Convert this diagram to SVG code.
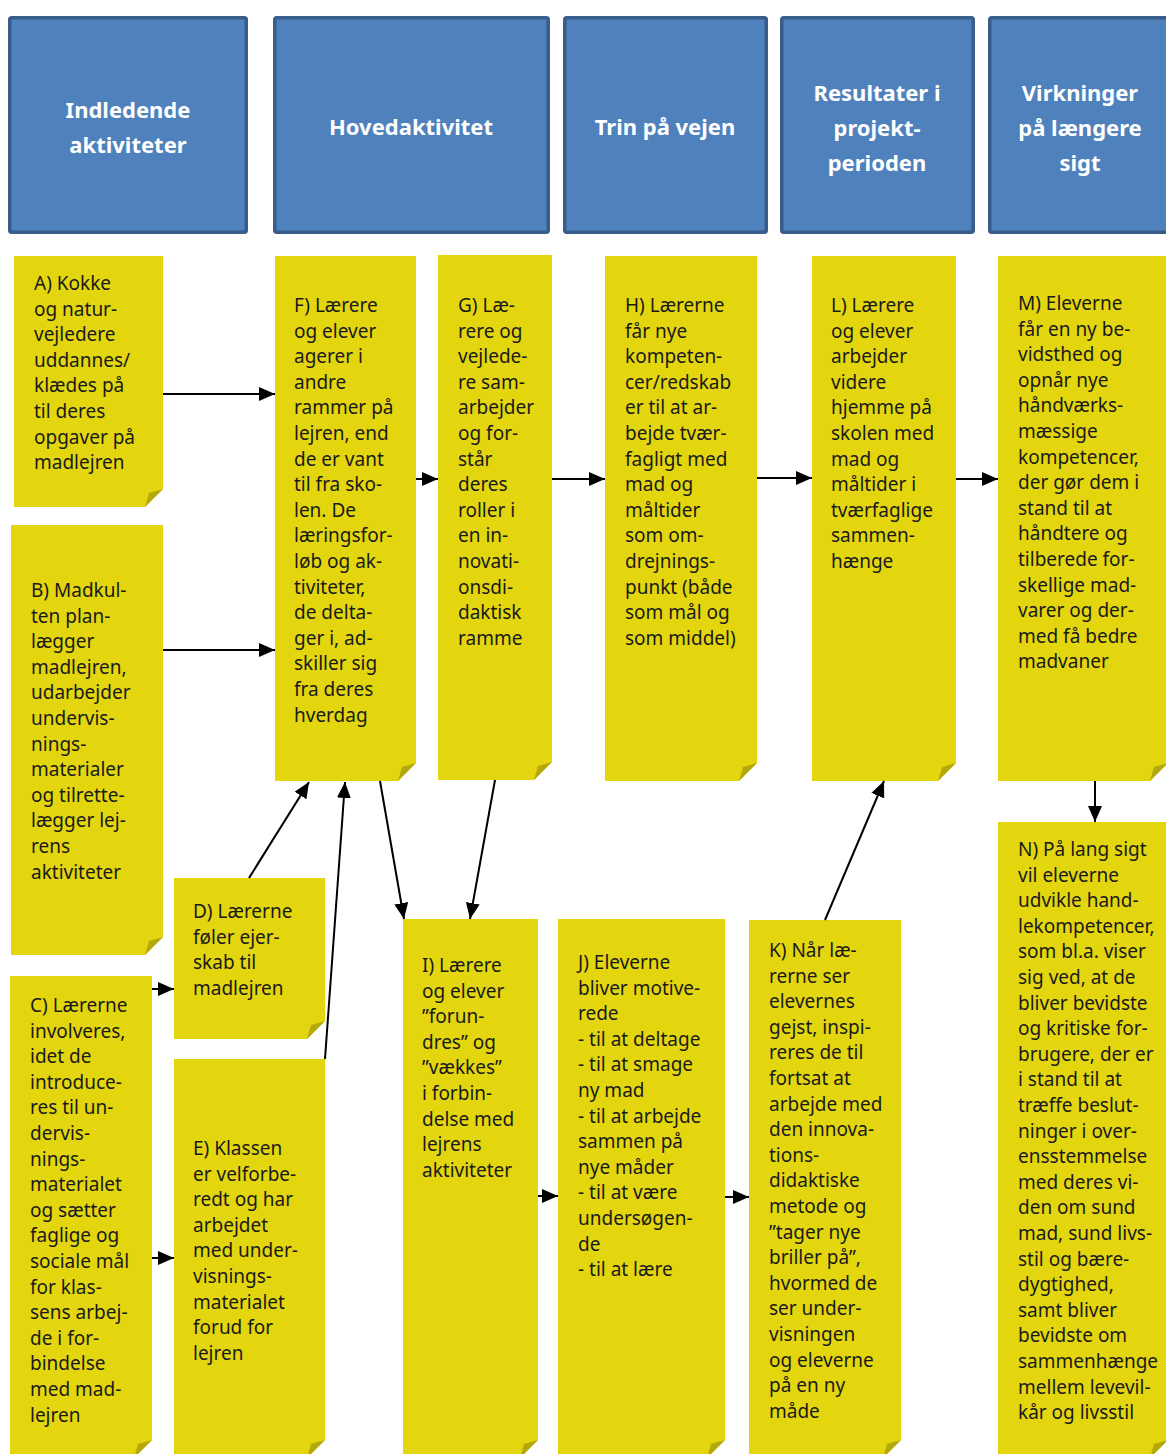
<svg xmlns="http://www.w3.org/2000/svg" width="1166" height="1454" viewBox="0 0 1166 1454">
<style>
.hdr{fill:#4F81BD;stroke:#385D8A;stroke-width:3.5}
.ht{font-family:"Noto Sans","Open Sans","DejaVu Sans",sans-serif;font-weight:700;font-size:22px;fill:#FFFFFF;text-anchor:middle}
.note{fill:#E3D60F}
.fold{fill:#B5A80C}
.nt{font-family:"Noto Sans","Open Sans","DejaVu Sans",sans-serif;font-size:19px;fill:#1A1A1A}
.conn line{stroke:#000;stroke-width:2;fill:none}
</style>
<defs>
<marker id="ah" viewBox="0 0 16 14" refX="16" refY="7" markerWidth="16" markerHeight="14" markerUnits="userSpaceOnUse" orient="auto">
<path d="M0,0 L16,7 L0,14 Z" fill="#000"/>
</marker>
</defs>
<rect width="1166" height="1454" fill="#FFFFFF"/>

<!-- headers -->
<g id="hdr1"><rect class="hdr" x="9.75" y="17.75" width="236.5" height="214.5" rx="2"/>
<text class="ht"><tspan x="128" y="118">Indledende</tspan><tspan x="128" dy="35">aktiviteter</tspan></text></g>
<g id="hdr2"><rect class="hdr" x="274.75" y="17.75" width="273.5" height="214.5" rx="2"/>
<text class="ht" x="411" y="135">Hovedaktivitet</text></g>
<g id="hdr3"><rect class="hdr" x="564.75" y="17.75" width="201.5" height="214.5" rx="2"/>
<text class="ht" x="665" y="135">Trin på vejen</text></g>
<g id="hdr4"><rect class="hdr" x="781.75" y="17.75" width="191.5" height="214.5" rx="2"/>
<text class="ht"><tspan x="877" y="101">Resultater i</tspan><tspan x="877" dy="35">projekt-</tspan><tspan x="877" dy="35">perioden</tspan></text></g>
<g id="hdr5"><rect class="hdr" x="989.75" y="17.75" width="190" height="214.5" rx="2"/>
<text class="ht"><tspan x="1080" y="101">Virkninger</tspan><tspan x="1080" dy="35">på længere</tspan><tspan x="1080" dy="35">sigt</tspan></text></g>

<!-- notes -->
<g id="A"><path class="note" d="M14,256 H163 V489 L145,507 H14 Z"/><path class="fold" d="M163,489 L145,507 L149,493 Z"/>
<text class="nt"><tspan x="34" y="290">A) Kokke</tspan><tspan x="34" dy="25.6">og natur-</tspan><tspan x="34" dy="25.6">vejledere</tspan><tspan x="34" dy="25.6">uddannes/</tspan><tspan x="34" dy="25.6">klædes på</tspan><tspan x="34" dy="25.6">til deres</tspan><tspan x="34" dy="25.6">opgaver på</tspan><tspan x="34" dy="25.6">madlejren</tspan></text></g>

<g id="B"><path class="note" d="M11,525 H163 V937 L145,955 H11 Z"/><path class="fold" d="M163,937 L145,955 L149,941 Z"/>
<text class="nt"><tspan x="31" y="597">B) Madkul-</tspan><tspan x="31" dy="25.6">ten plan-</tspan><tspan x="31" dy="25.6">lægger</tspan><tspan x="31" dy="25.6">madlejren,</tspan><tspan x="31" dy="25.6">udarbejder</tspan><tspan x="31" dy="25.6">undervis-</tspan><tspan x="31" dy="25.6">nings-</tspan><tspan x="31" dy="25.6">materialer</tspan><tspan x="31" dy="25.6">og tilrette-</tspan><tspan x="31" dy="25.6">lægger lej-</tspan><tspan x="31" dy="25.6">rens</tspan><tspan x="31" dy="25.6">aktiviteter</tspan></text></g>

<g id="C"><path class="note" d="M10,976 H152 V1440 L134,1458 H10 Z"/><path class="fold" d="M152,1440 L134,1458 L138,1444 Z"/>
<text class="nt"><tspan x="30" y="1012">C) Lærerne</tspan><tspan x="30" dy="25.6">involveres,</tspan><tspan x="30" dy="25.6">idet de</tspan><tspan x="30" dy="25.6">introduce-</tspan><tspan x="30" dy="25.6">res til un-</tspan><tspan x="30" dy="25.6">dervis-</tspan><tspan x="30" dy="25.6">nings-</tspan><tspan x="30" dy="25.6">materialet</tspan><tspan x="30" dy="25.6">og sætter</tspan><tspan x="30" dy="25.6">faglige og</tspan><tspan x="30" dy="25.6">sociale mål</tspan><tspan x="30" dy="25.6">for klas-</tspan><tspan x="30" dy="25.6">sens arbej-</tspan><tspan x="30" dy="25.6">de i for-</tspan><tspan x="30" dy="25.6">bindelse</tspan><tspan x="30" dy="25.6">med mad-</tspan><tspan x="30" dy="25.6">lejren</tspan></text></g>

<g id="D"><path class="note" d="M174,878 H325 V1021 L307,1039 H174 Z"/><path class="fold" d="M325,1021 L307,1039 L311,1025 Z"/>
<text class="nt"><tspan x="193" y="918">D) Lærerne</tspan><tspan x="193" dy="25.6">føler ejer-</tspan><tspan x="193" dy="25.6">skab til</tspan><tspan x="193" dy="25.6">madlejren</tspan></text></g>

<g id="E"><path class="note" d="M174,1059 H325 V1440 L307,1458 H174 Z"/><path class="fold" d="M325,1440 L307,1458 L311,1444 Z"/>
<text class="nt"><tspan x="193" y="1155">E) Klassen</tspan><tspan x="193" dy="25.6">er velforbe-</tspan><tspan x="193" dy="25.6">redt og har</tspan><tspan x="193" dy="25.6">arbejdet</tspan><tspan x="193" dy="25.6">med under-</tspan><tspan x="193" dy="25.6">visnings-</tspan><tspan x="193" dy="25.6">materialet</tspan><tspan x="193" dy="25.6">forud for</tspan><tspan x="193" dy="25.6">lejren</tspan></text></g>

<g id="F"><path class="note" d="M275,256 H416 V763 L398,781 H275 Z"/><path class="fold" d="M416,763 L398,781 L402,767 Z"/>
<text class="nt"><tspan x="294" y="312">F) Lærere</tspan><tspan x="294" dy="25.6">og elever</tspan><tspan x="294" dy="25.6">agerer i</tspan><tspan x="294" dy="25.6">andre</tspan><tspan x="294" dy="25.6">rammer på</tspan><tspan x="294" dy="25.6">lejren, end</tspan><tspan x="294" dy="25.6">de er vant</tspan><tspan x="294" dy="25.6">til fra sko-</tspan><tspan x="294" dy="25.6">len. De</tspan><tspan x="294" dy="25.6">læringsfor-</tspan><tspan x="294" dy="25.6">løb og ak-</tspan><tspan x="294" dy="25.6">tiviteter,</tspan><tspan x="294" dy="25.6">de delta-</tspan><tspan x="294" dy="25.6">ger i, ad-</tspan><tspan x="294" dy="25.6">skiller sig</tspan><tspan x="294" dy="25.6">fra deres</tspan><tspan x="294" dy="25.6">hverdag</tspan></text></g>

<g id="G"><path class="note" d="M438,255 H552 V762 L534,780 H438 Z"/><path class="fold" d="M552,762 L534,780 L538,766 Z"/>
<text class="nt"><tspan x="458" y="312">G) Læ-</tspan><tspan x="458" dy="25.6">rere og</tspan><tspan x="458" dy="25.6">vejlede-</tspan><tspan x="458" dy="25.6">re sam-</tspan><tspan x="458" dy="25.6">arbejder</tspan><tspan x="458" dy="25.6">og for-</tspan><tspan x="458" dy="25.6">står</tspan><tspan x="458" dy="25.6">deres</tspan><tspan x="458" dy="25.6">roller i</tspan><tspan x="458" dy="25.6">en in-</tspan><tspan x="458" dy="25.6">novati-</tspan><tspan x="458" dy="25.6">onsdi-</tspan><tspan x="458" dy="25.6">daktisk</tspan><tspan x="458" dy="25.6">ramme</tspan></text></g>

<g id="H"><path class="note" d="M605,256 H757 V763 L739,781 H605 Z"/><path class="fold" d="M757,763 L739,781 L743,767 Z"/>
<text class="nt"><tspan x="625" y="312">H) Lærerne</tspan><tspan x="625" dy="25.6">får nye</tspan><tspan x="625" dy="25.6">kompeten-</tspan><tspan x="625" dy="25.6">cer/redskab</tspan><tspan x="625" dy="25.6">er til at ar-</tspan><tspan x="625" dy="25.6">bejde tvær-</tspan><tspan x="625" dy="25.6">fagligt med</tspan><tspan x="625" dy="25.6">mad og</tspan><tspan x="625" dy="25.6">måltider</tspan><tspan x="625" dy="25.6">som om-</tspan><tspan x="625" dy="25.6">drejnings-</tspan><tspan x="625" dy="25.6">punkt (både</tspan><tspan x="625" dy="25.6">som mål og</tspan><tspan x="625" dy="25.6">som middel)</tspan></text></g>

<g id="L"><path class="note" d="M812,256 H956 V763 L938,781 H812 Z"/><path class="fold" d="M956,763 L938,781 L942,767 Z"/>
<text class="nt"><tspan x="831" y="312">L) Lærere</tspan><tspan x="831" dy="25.6">og elever</tspan><tspan x="831" dy="25.6">arbejder</tspan><tspan x="831" dy="25.6">videre</tspan><tspan x="831" dy="25.6">hjemme på</tspan><tspan x="831" dy="25.6">skolen med</tspan><tspan x="831" dy="25.6">mad og</tspan><tspan x="831" dy="25.6">måltider i</tspan><tspan x="831" dy="25.6">tværfaglige</tspan><tspan x="831" dy="25.6">sammen-</tspan><tspan x="831" dy="25.6">hænge</tspan></text></g>

<g id="M"><path class="note" d="M998,256 H1168 V763 L1150,781 H998 Z"/><path class="fold" d="M1168,763 L1150,781 L1154,767 Z"/>
<text class="nt"><tspan x="1018" y="310">M) Eleverne</tspan><tspan x="1018" dy="25.6">får en ny be-</tspan><tspan x="1018" dy="25.6">vidsthed og</tspan><tspan x="1018" dy="25.6">opnår nye</tspan><tspan x="1018" dy="25.6">håndværks-</tspan><tspan x="1018" dy="25.6">mæssige</tspan><tspan x="1018" dy="25.6">kompetencer,</tspan><tspan x="1018" dy="25.6">der gør dem i</tspan><tspan x="1018" dy="25.6">stand til at</tspan><tspan x="1018" dy="25.6">håndtere og</tspan><tspan x="1018" dy="25.6">tilberede for-</tspan><tspan x="1018" dy="25.6">skellige mad-</tspan><tspan x="1018" dy="25.6">varer og der-</tspan><tspan x="1018" dy="25.6">med få bedre</tspan><tspan x="1018" dy="25.6">madvaner</tspan></text></g>

<g id="I"><path class="note" d="M403,919 H538 V1440 L520,1458 H403 Z"/><path class="fold" d="M538,1440 L520,1458 L524,1444 Z"/>
<text class="nt"><tspan x="422" y="972">I) Lærere</tspan><tspan x="422" dy="25.6">og elever</tspan><tspan x="422" dy="25.6">”forun-</tspan><tspan x="422" dy="25.6">dres” og</tspan><tspan x="422" dy="25.6">”vækkes”</tspan><tspan x="422" dy="25.6">i forbin-</tspan><tspan x="422" dy="25.6">delse med</tspan><tspan x="422" dy="25.6">lejrens</tspan><tspan x="422" dy="25.6">aktiviteter</tspan></text></g>

<g id="J"><path class="note" d="M558,919 H725 V1440 L707,1458 H558 Z"/><path class="fold" d="M725,1440 L707,1458 L711,1444 Z"/>
<text class="nt"><tspan x="578" y="969">J) Eleverne</tspan><tspan x="578" dy="25.6">bliver motive-</tspan><tspan x="578" dy="25.6">rede</tspan><tspan x="578" dy="25.6">- til at deltage</tspan><tspan x="578" dy="25.6">- til at smage</tspan><tspan x="578" dy="25.6">ny mad</tspan><tspan x="578" dy="25.6">- til at arbejde</tspan><tspan x="578" dy="25.6">sammen på</tspan><tspan x="578" dy="25.6">nye måder</tspan><tspan x="578" dy="25.6">- til at være</tspan><tspan x="578" dy="25.6">undersøgen-</tspan><tspan x="578" dy="25.6">de</tspan><tspan x="578" dy="25.6">- til at lære</tspan></text></g>

<g id="K"><path class="note" d="M749,920 H901 V1440 L883,1458 H749 Z"/><path class="fold" d="M901,1440 L883,1458 L887,1444 Z"/>
<text class="nt"><tspan x="769" y="957">K) Når læ-</tspan><tspan x="769" dy="25.6">rerne ser</tspan><tspan x="769" dy="25.6">elevernes</tspan><tspan x="769" dy="25.6">gejst, inspi-</tspan><tspan x="769" dy="25.6">reres de til</tspan><tspan x="769" dy="25.6">fortsat at</tspan><tspan x="769" dy="25.6">arbejde med</tspan><tspan x="769" dy="25.6">den innova-</tspan><tspan x="769" dy="25.6">tions-</tspan><tspan x="769" dy="25.6">didaktiske</tspan><tspan x="769" dy="25.6">metode og</tspan><tspan x="769" dy="25.6">”tager nye</tspan><tspan x="769" dy="25.6">briller på”,</tspan><tspan x="769" dy="25.6">hvormed de</tspan><tspan x="769" dy="25.6">ser under-</tspan><tspan x="769" dy="25.6">visningen</tspan><tspan x="769" dy="25.6">og eleverne</tspan><tspan x="769" dy="25.6">på en ny</tspan><tspan x="769" dy="25.6">måde</tspan></text></g>

<g id="N"><path class="note" d="M998,822 H1168 V1440 L1150,1458 H998 Z"/><path class="fold" d="M1168,1440 L1150,1458 L1154,1444 Z"/>
<text class="nt"><tspan x="1018" y="856">N) På lang sigt</tspan><tspan x="1018" dy="25.6">vil eleverne</tspan><tspan x="1018" dy="25.6">udvikle hand-</tspan><tspan x="1018" dy="25.6">lekompetencer,</tspan><tspan x="1018" dy="25.6">som bl.a. viser</tspan><tspan x="1018" dy="25.6">sig ved, at de</tspan><tspan x="1018" dy="25.6">bliver bevidste</tspan><tspan x="1018" dy="25.6">og kritiske for-</tspan><tspan x="1018" dy="25.6">brugere, der er</tspan><tspan x="1018" dy="25.6">i stand til at</tspan><tspan x="1018" dy="25.6">træffe beslut-</tspan><tspan x="1018" dy="25.6">ninger i over-</tspan><tspan x="1018" dy="25.6">ensstemmelse</tspan><tspan x="1018" dy="25.6">med deres vi-</tspan><tspan x="1018" dy="25.6">den om sund</tspan><tspan x="1018" dy="25.6">mad, sund livs-</tspan><tspan x="1018" dy="25.6">stil og bære-</tspan><tspan x="1018" dy="25.6">dygtighed,</tspan><tspan x="1018" dy="25.6">samt bliver</tspan><tspan x="1018" dy="25.6">bevidste om</tspan><tspan x="1018" dy="25.6">sammenhænge</tspan><tspan x="1018" dy="25.6">mellem levevil-</tspan><tspan x="1018" dy="25.6">kår og livsstil</tspan></text></g>

<!-- connectors -->
<g id="connectors" class="conn">
<line x1="163" y1="394" x2="275" y2="394" marker-end="url(#ah)"/>
<line x1="163" y1="650" x2="275" y2="650" marker-end="url(#ah)"/>
<line x1="416" y1="479" x2="438" y2="479" marker-end="url(#ah)"/>
<line x1="552" y1="479" x2="605" y2="479" marker-end="url(#ah)"/>
<line x1="757" y1="478" x2="812" y2="478" marker-end="url(#ah)"/>
<line x1="956" y1="479" x2="998" y2="479" marker-end="url(#ah)"/>
<line x1="1095" y1="781" x2="1095" y2="822" marker-end="url(#ah)"/>
<line x1="249" y1="878" x2="309" y2="782" marker-end="url(#ah)"/>
<line x1="325" y1="1059" x2="345" y2="782" marker-end="url(#ah)"/>
<line x1="380" y1="781" x2="404" y2="919" marker-end="url(#ah)"/>
<line x1="495" y1="780" x2="470" y2="919" marker-end="url(#ah)"/>
<line x1="152" y1="989" x2="174" y2="989" marker-end="url(#ah)"/>
<line x1="152" y1="1258" x2="174" y2="1258" marker-end="url(#ah)"/>
<line x1="538" y1="1196" x2="558" y2="1196" marker-end="url(#ah)"/>
<line x1="725" y1="1197" x2="749" y2="1197" marker-end="url(#ah)"/>
<line x1="825" y1="920" x2="884" y2="781" marker-end="url(#ah)"/>
</g>
</svg>
